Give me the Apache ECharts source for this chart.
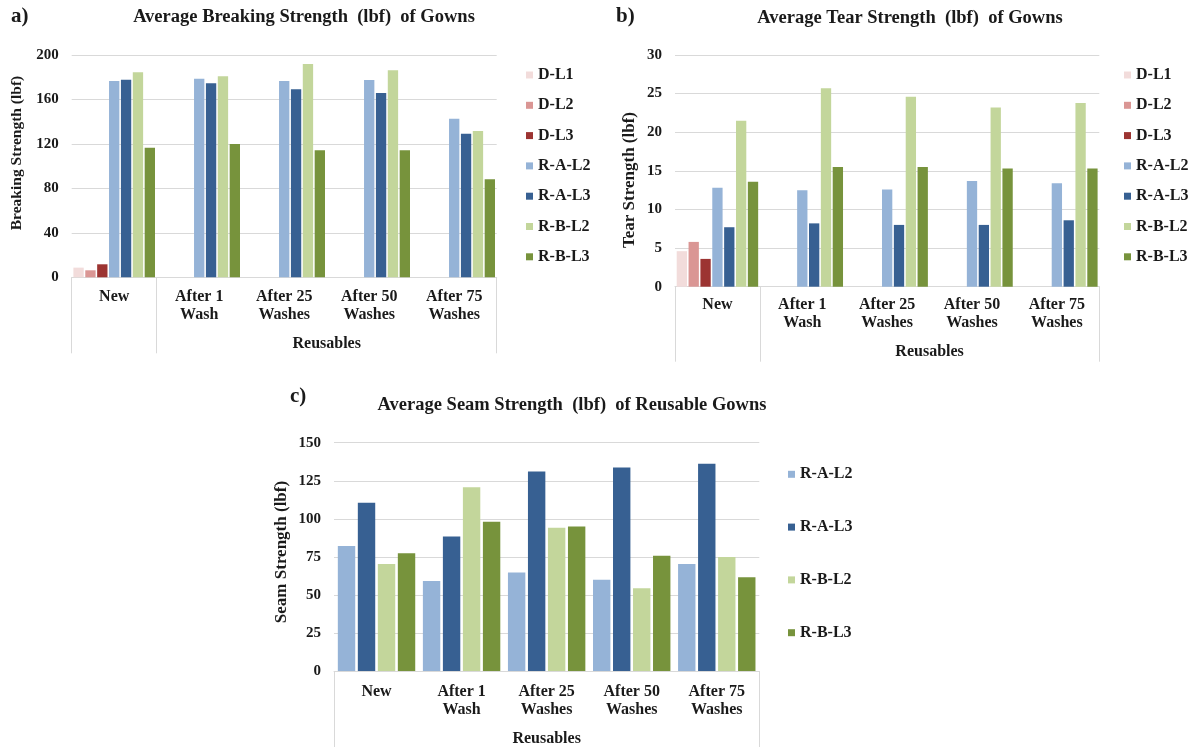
<!DOCTYPE html>
<html>
<head>
<meta charset="utf-8">
<script src="https://cdn.jsdelivr.net/npm/echarts@6/dist/echarts.min.js"></script>
<style>
html,body{margin:0;padding:0;background:#fff;}
#main{width:1198px;height:748px;}
</style>
</head>
<body>
<div id="main"></div>
<script>
// ---------- data ----------
const categories = ['New', 'After 1\nWash', 'After 25\nWashes', 'After 50\nWashes', 'After 75\nWashes'];
const groupLabel = 'Reusables';
const seriesNamesAB = ['D-L1', 'D-L2', 'D-L3', 'R-A-L2', 'R-A-L3', 'R-B-L2', 'R-B-L3'];
const seriesNamesC = ['R-A-L2', 'R-A-L3', 'R-B-L2', 'R-B-L3'];

// a) Breaking strength (lbf)
const breakDL1 = [8.7, null, null, null, null];
const breakDL2 = [6.3, null, null, null, null];
const breakDL3 = [11.7, null, null, null, null];
const breakRAL2 = [176.6, 178.7, 176.6, 177.5, 142.7];
const breakRAL3 = [177.8, 174.5, 169.1, 165.8, 129.2];
const breakRBL2 = [184.4, 180.8, 191.9, 186.2, 131.6];
const breakRBL3 = [116.6, 119.9, 114.2, 114.2, 88.2];

// b) Tear strength (lbf)
const tearDL1 = [4.6, null, null, null, null];
const tearDL2 = [5.8, null, null, null, null];
const tearDL3 = [3.6, null, null, null, null];
const tearRAL2 = [12.8, 12.5, 12.6, 13.7, 13.4];
const tearRAL3 = [7.7, 8.2, 8.0, 8.0, 8.6];
const tearRBL2 = [21.5, 25.7, 24.6, 23.2, 23.8];
const tearRBL3 = [13.6, 15.5, 15.5, 15.3, 15.3];

// c) Seam strength (lbf)
const seamRAL2 = [82.1, 59.2, 64.7, 59.9, 70.3];
const seamRAL3 = [110.6, 88.4, 131.1, 133.7, 136.1];
const seamRBL2 = [70.3, 120.8, 94.1, 54.4, 74.9];
const seamRBL3 = [77.3, 98.0, 94.9, 75.8, 61.6];

const yTicksA = {min: 0, max: 200, interval: 40};
const yTicksB = {min: 0, max: 30, interval: 5};
const yTicksC = {min: 0, max: 150, interval: 25};

const panelLetters = ['a)', 'b)', 'c)'];
const chartTitles = [
  'Average Breaking Strength  (lbf)  of Gowns',
  'Average Tear Strength  (lbf)  of Gowns',
  'Average Seam Strength  (lbf)  of Reusable Gowns'
];
const yNames = ['Breaking Strength (lbf)', 'Tear Strength (lbf)', 'Seam Strength (lbf)'];

// ---------- styling ----------
const colors = {
  'D-L1': '#f2dcdb', 'D-L2': '#da9694', 'D-L3': '#9c3432',
  'R-A-L2': '#95b3d7', 'R-A-L3': '#376092', 'R-B-L2': '#c3d69b', 'R-B-L3': '#77933c'
};
const FONT = "'Liberation Serif', 'Times New Roman', serif";
const TXT = '#1a1a1a';
const GRIDC = '#d9d9d9';

const grids = [
  {left: 71.7, top: 55, width: 425, height: 222.3},
  {left: 675, top: 55, width: 424.3, height: 231.7},
  {left: 334, top: 442.7, width: 425.3, height: 229.6}
];
const labelMargins = [11, 9, 12];
const groupMargins = [58, 56, 59];
const tickLens = [76, 75, 76];
const groupTicks = [[0, 1, 5], [0, 1, 5], [0, 5]];
const groupPos = [3, 3, 2.5];

const xAxes = [];
grids.forEach((g, i) => {
  xAxes.push({
    type: 'category', gridIndex: i, data: categories,
    axisLine: {show: true, lineStyle: {color: GRIDC, width: 1}},
    axisTick: {show: false},
    axisLabel: {margin: labelMargins[i], fontFamily: FONT, fontWeight: 'bold', fontSize: 16, color: TXT, lineHeight: 18, interval: 0}
  });
});
grids.forEach((g, i) => {
  xAxes.push({
    type: 'value', gridIndex: i, min: 0, max: 5, position: 'bottom',
    axisLine: {show: false}, splitLine: {show: false},
    axisTick: {show: true, customValues: groupTicks[i], length: tickLens[i], lineStyle: {color: GRIDC, width: 1}},
    axisLabel: {show: true, customValues: [groupPos[i]], formatter: () => groupLabel, margin: groupMargins[i],
      fontFamily: FONT, fontWeight: 'bold', fontSize: 16, lineHeight: 18, color: TXT}
  });
});

const yTicks = [yTicksA, yTicksB, yTicksC];
const yAxes = grids.map((g, i) => ({
  type: 'value', gridIndex: i, min: yTicks[i].min, max: yTicks[i].max, interval: yTicks[i].interval,
  axisLine: {show: false}, axisTick: {show: false},
  splitLine: {show: true, lineStyle: {color: GRIDC, width: 1}},
  axisLabel: {margin: 13, fontFamily: FONT, fontWeight: 'bold', fontSize: 15, color: TXT}
}));

function mk(name, data, gi, catGap, gap) {
  return {
    type: 'bar', name: name, data: data, xAxisIndex: gi, yAxisIndex: gi,
    barCategoryGap: catGap, barGap: gap,
    itemStyle: {color: colors[name]}, emphasis: {disabled: true}
  };
}
const series = [];
const dataA = [breakDL1, breakDL2, breakDL3, breakRAL2, breakRAL3, breakRBL2, breakRBL3];
const dataB = [tearDL1, tearDL2, tearDL3, tearRAL2, tearRAL3, tearRBL2, tearRBL3];
const dataC = [seamRAL2, seamRAL3, seamRBL2, seamRBL3];
seriesNamesAB.forEach((n, k) => series.push(mk(n, dataA[k], 0, '4%', '15%')));
seriesNamesAB.forEach((n, k) => series.push(mk(n, dataB[k], 1, '4%', '15%')));
seriesNamesC.forEach((n, k) => series.push(mk(n, dataC[k], 2, '9%', '15%')));

const legendText = {fontFamily: FONT, fontWeight: 'bold', fontSize: 16, color: TXT, lineHeight: 16};
const legends = [
  {data: seriesNamesAB, left: 526, top: 67, itemGap: 14.3},
  {data: seriesNamesAB, left: 1124, top: 67, itemGap: 14.3},
  {data: seriesNamesC, left: 788, top: 466.3, itemGap: 36.8}
].map(l => Object.assign({
  orient: 'vertical', icon: 'rect', itemWidth: 7, itemHeight: 7, selectedMode: false,
  textStyle: legendText, padding: 0
}, l));

function txt(x, y, text, size, align, rot) {
  return {type: 'text', x: x, y: y, rotation: rot || 0, silent: true,
    style: {text: text, fill: TXT, font: 'bold ' + size + 'px ' + FONT, textAlign: align, textVerticalAlign: 'middle'}};
}
const graphics = [
  txt(11, 17, panelLetters[0], 21, 'left'),
  txt(304, 17, chartTitles[0], 18.5, 'center'),
  txt(616, 17, panelLetters[1], 21, 'left'),
  txt(910, 18, chartTitles[1], 18.5, 'center'),
  txt(290, 397, panelLetters[2], 21, 'left'),
  txt(572, 405, chartTitles[2], 18.5, 'center'),
  txt(17, 153, yNames[0], 15.5, 'center', Math.PI / 2),
  txt(630, 180, yNames[1], 17, 'center', Math.PI / 2),
  txt(282, 552, yNames[2], 17, 'center', Math.PI / 2)
];

const chart = echarts.init(document.getElementById('main'), null, {renderer: 'canvas'});
chart.setOption({
  animation: false,
  backgroundColor: '#ffffff',
  grid: grids,
  xAxis: xAxes,
  yAxis: yAxes,
  legend: legends,
  series: series,
  graphic: graphics
});
</script>
</body>
</html>
